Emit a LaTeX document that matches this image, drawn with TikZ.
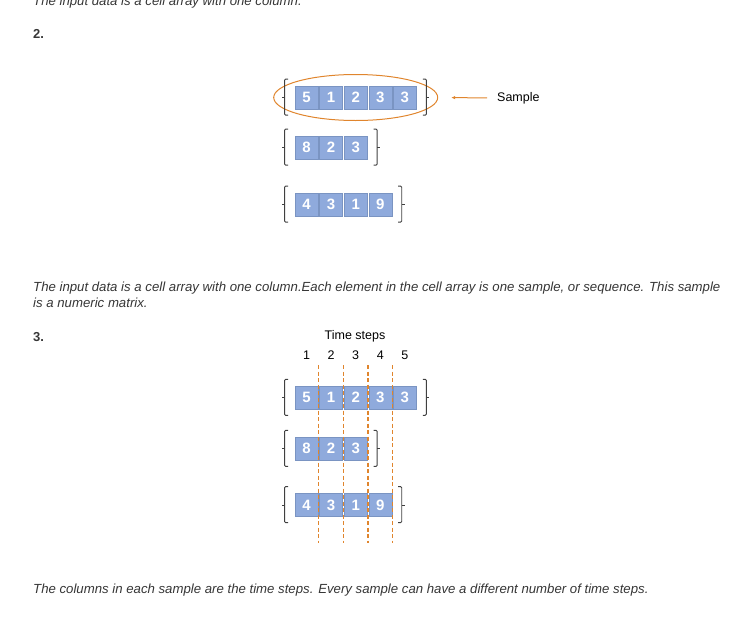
\documentclass[tikz,border=0pt]{standalone}
\usepackage{fontspec}
\setmainfont{Liberation Sans}
\usetikzlibrary{arrows.meta,positioning,calc,fit,shapes.geometric}
\definecolor{cellblue}{HTML}{8FAADC}
\definecolor{celledge}{HTML}{7A94C2}
\definecolor{markorange}{HTML}{E0852D}
\definecolor{txt}{HTML}{363636}

\begin{document}
\begin{tikzpicture}[
    x=1pt, y=-1pt,
    cell/.style={draw=celledge, fill=cellblue, minimum width=23pt, minimum height=23pt, inner sep=0pt, text=white, font=\fontsize{15}{15}\selectfont\bfseries},
    brk/.style={draw=black!75, line width=0.9pt, rounded corners=1pt},
    para/.style={anchor=base west, inner sep=0pt, text=txt, font=\fontsize{13.2}{16}\selectfont\itshape, align=left},
    head/.style={anchor=base west, inner sep=0pt, text=txt, font=\fontsize{13}{13}\selectfont\bfseries},
    lbl/.style={anchor=base, inner sep=0pt, text=black, font=\fontsize{12.5}{12.5}\selectfont},
    stepline/.style={draw=markorange, line width=1.1pt, dash pattern=on 4pt off 2.5pt},
    edge/.style={-{Latex[length=4pt,width=3.5pt]}, draw=markorange, line width=1pt}
]
\useasboundingbox (0,0) rectangle (732,643);

\node[para] (prev) at (33,5) {The input data is a cell array with one column.};
\node[head] (num2) at (33,38) {2.};

% cell array, one sample per row
\node[cell] (a1) at (306.5,97.5) {5};
\foreach \v [count=\i from 2, evaluate=\i as \j using int(\i-1)] in {1,2,3,3}
    \node[cell, right=1.2pt of a\j] (a\i) {\v};
\node[cell] (b1) at (306.5,147.5) {8};
\foreach \v [count=\i from 2, evaluate=\i as \j using int(\i-1)] in {2,3}
    \node[cell, right=1.2pt of b\j] (b\i) {\v};
\node[cell] (c1) at (306.5,204.5) {4};
\foreach \v [count=\i from 2, evaluate=\i as \j using int(\i-1)] in {3,1,9}
    \node[cell, right=1.2pt of c\j] (c\i) {\v};

\node[fit=(a1)(a5), inner sep=0pt] (ra) {};
\node[fit=(b1)(b3), inner sep=0pt] (rb) {};
\node[fit=(c1)(c4), inner sep=0pt] (rc) {};

\node[ellipse, draw=markorange, line width=1pt, minimum width=164pt, minimum height=46pt] (ring) at (ra.center) {};
\node[anchor=west, inner sep=0pt, font=\fontsize{12.5}{12.5}\selectfont] (smp) at (497,98) {Sample};
\draw[edge, shorten <=10pt, shorten >=13pt] (smp.west) -- (ring.east);

\node[para] (txt2) at (33,307.5) {The input data is a cell array with one column.Each element in the cell array is one sample, or sequence. This sample\\is a numeric matrix.};

\node[head] (num3) at (33,341) {3.};

% same samples, with the time steps marked
\node[cell] (p1) at (306.5,397.7) {5};
\foreach \v [count=\i from 2, evaluate=\i as \j using int(\i-1)] in {1,2,3,3}
    \node[cell, right=1.2pt of p\j] (p\i) {\v};
\node[cell] (q1) at (306.5,448.7) {8};
\foreach \v [count=\i from 2, evaluate=\i as \j using int(\i-1)] in {2,3}
    \node[cell, right=1.2pt of q\j] (q\i) {\v};
\node[cell] (s1) at (306.5,505) {4};
\foreach \v [count=\i from 2, evaluate=\i as \j using int(\i-1)] in {3,1,9}
    \node[cell, right=1.2pt of s\j] (s\i) {\v};

\node[fit=(p1)(p5), inner sep=0pt] (rp) {};
\node[fit=(q1)(q3), inner sep=0pt] (rq) {};
\node[fit=(s1)(s4), inner sep=0pt] (rs) {};

\foreach \r in {ra,rb,rc,rp,rq,rs} {
    \draw[brk] ($(\r.north west)+(-6.5,-6.5)$) -- ++(-3.5,0) -- ++(0,36) -- ++(3.5,0);
    \draw[brk] ($(\r.west)+(-10,0)$) -- ++(-3,0);
    \draw[brk] ($(\r.north east)+(6,-6.5)$) -- ++(3.5,0) -- ++(0,36) -- ++(-3.5,0);
    \draw[brk] ($(\r.east)+(9.5,0)$) -- ++(3,0);
}

\node[lbl] (ts) at (355,339.5) {Time steps};
\foreach \i in {1,...,5}
    \node[lbl] (n\i) at (p\i |- 0,359.5) {\i};

\coordinate (dtop) at (0,365);
\coordinate (dbot) at (0,543);
\foreach \i in {1,...,4} {
    \coordinate (g\i) at ($(p\i.east)+(0.6,0)$);
    \draw[stepline] (g\i |- dtop) -- (g\i |- dbot);
}

\node[para] (txt3) at (33,593) {The columns in each sample are the time steps. Every sample can have a different number of time steps.};
\end{tikzpicture}
\end{document}
